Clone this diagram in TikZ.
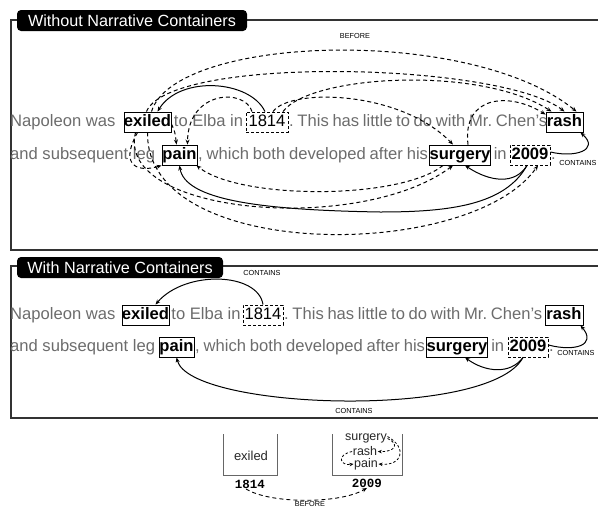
\documentclass[tikz,border=0pt]{standalone}
\usepackage{fontspec}
\setmainfont{Liberation Sans}
\newfontfamily\monofont{Liberation Mono}
\usetikzlibrary{arrows.meta,calc}
\definecolor{txtgray}{HTML}{6C6C6C}
\definecolor{framegray}{HTML}{333333}
\definecolor{boxgray}{HTML}{666666}
\newcommand{\bodyfont}{\fontsize{16.6}{19}\selectfont\frenchspacing}
\newcommand{\tabfont}{\fontsize{16.2}{19}\selectfont}
\newcommand{\smallcaps}{\fontsize{7.3}{8}\selectfont}
\newcommand{\tightsp}[1]{\spaceskip=#1\relax\xspaceskip=#1\relax}
\begin{document}
\begin{tikzpicture}[x=1pt,y=-1pt,
  ev/.style={draw=black, line width=0.9pt, inner xsep=0pt, inner ysep=2pt,
    text height=12.5pt, text depth=3.5pt, font=\bodyfont\bfseries, text=black, anchor=base},
  tm/.style={ev, dash pattern=on 3pt off 2pt},
  txt/.style={inner sep=0pt, font=\bodyfont, text=txtgray, anchor=base},
  con/.style={line width=1pt, -{Stealth[length=5pt,width=4pt]}},
  bef/.style={con, dash pattern=on 4pt off 3pt},
  lbl/.style={inner sep=0pt, font=\smallcaps, text=black},
  tab/.style={fill=black, rounded corners=4pt, text=white, font=\tabfont, inner sep=0pt},
  frm/.style={draw=framegray, line width=1.2pt},
  cword/.style={inner sep=0.5pt, font=\fontsize{12.5}{13}\selectfont, text=black!85},
  cyear/.style={inner sep=0.5pt, font=\monofont\bfseries\fontsize{12.5}{14}\selectfont, text=black},
  cbef/.style={line width=0.8pt, -{Stealth[length=4pt,width=3.5pt]}, dash pattern=on 2.5pt off 2pt}
]
\useasboundingbox (0,0) rectangle (598,509);

% ---------- Panel 1 frame ----------
\draw[frm] (11,20) rectangle (610,250);
\node[tab, minimum width=230pt, minimum height=21pt] (tab1) at (132,20.5) {Without Narrative Containers};

% line 1
\node[ev, minimum width=47pt] (ex1) at (147.5,126.5) {exiled};
\node[tm, minimum width=42pt, font=\bodyfont] (yA1) at (267,126.5) {1814};
\node[ev, minimum width=37pt] (ra1) at (564.5,126.5) {rash};
\node[txt, anchor=base west] (t11) at (10,126.5) {Napoleon was};
\node[txt] (t12) at ($(ex1.base east)!0.5!(yA1.base west)$) {to Elba in};
\node[txt, anchor=base west] (t13) at ($(yA1.base east)+(0.5,0)$) {\tightsp{3.7pt}. This has little to do with Mr. Chen's};
% line 2
\node[ev, minimum width=35pt] (pa1) at (179.5,159.5) {pain};
\node[ev, minimum width=60pt] (su1) at (460,159.5) {surgery};
\node[tm, minimum width=40pt] (yB1) at (530,159.5) {2009};
\node[txt, anchor=base west] (t21) at (10,159.5) {and subsequent leg};
\node[txt, anchor=base west] (t22) at ($(pa1.base east)+(0.5,0)$) {\tightsp{3.9pt}, which both developed after his};
\node[txt] (t23) at ($(su1.base east)!0.5!(yB1.base west)$) {in};
\node[txt, anchor=base west] (t24) at ($(yB1.base east)+(0.5,0)$) {.};

% solid CONTAINS arcs
\draw[con] ([xshift=-2pt]yA1.north) .. controls (250,80) and (180,75) .. ([xshift=10pt]ex1.north);
\draw[con] ([yshift=3pt]yB1.east) .. controls (575,158) and (600,150) .. ([xshift=-3pt]ra1.south east);
\draw[con] ([xshift=-3pt]yB1.south) .. controls (515,185) and (490,182) .. ([xshift=5pt]su1.south);
\draw[con] ([xshift=-3pt]yB1.south) .. controls (505,205) and (450,212) .. (380,212)
   .. controls (260,210) and (185,200) .. (pa1.south);
\node[lbl] (lc1) at (578,163) {CONTAINS};

% dashed BEFORE arcs
\draw[bef] ([xshift=4pt]ex1.north) .. controls (175,35) and (470,25) .. ([xshift=12pt]ra1.north);
\node[lbl] (lb1) at (355,36) {BEFORE};
\draw[bef] ([xshift=-1pt]ex1.north) .. controls (170,55) and (500,62) .. (ra1.north);
\draw[bef] ([xshift=16pt]yA1.north) .. controls (310,75) and (480,65) .. ([xshift=-13pt]ra1.north);
\draw[bef] ([xshift=6pt]yA1.north) .. controls (290,88) and (400,90) .. ([xshift=-7pt]su1.north);
\draw[bef] ([xshift=8pt]su1.north) .. controls (462,95) and (510,92) .. ([yshift=-3pt]ra1.north west);
\draw[bef] ([xshift=-15pt]yA1.north) .. controls (245,88) and (188,90) .. ([xshift=8pt]pa1.north);
\draw[bef] ([yshift=-2pt]ex1.east) .. controls (175,132) .. ([xshift=-3pt]pa1.north);
\draw[bef] ([xshift=-17pt]su1.south) .. controls (400,200) and (240,200) .. ([xshift=-1pt]pa1.south east);
\draw[bef] ([xshift=-12pt]ex1.south) .. controls (115,215) and (360,235) .. ([xshift=-7pt]su1.south);
\draw[bef] (ex1.south) .. controls (145,262) and (470,262) .. ([xshift=8pt]yB1.south);
\draw[bef] ([xshift=-10pt]ex1.south) .. controls (118,168) and (140,172) .. (pa1.south west);

% ---------- Panel 2 frame ----------
\draw[frm] (11,266) rectangle (610,418);
\node[tab, minimum width=206pt, minimum height=21pt] (tab2) at (120,267.5) {With Narrative Containers};

\node[ev, minimum width=46pt] (ex2) at (145.5,319.5) {exiled};
\node[tm, minimum width=40pt, font=\bodyfont] (yA2) at (263,319.5) {1814};
\node[ev, minimum width=38pt] (ra2) at (564,319.5) {rash};
\node[txt, anchor=base west] (s11) at (10,319.5) {Napoleon was};
\node[txt] (s12) at ($(ex2.base east)!0.5!(yA2.base west)$) {to Elba in};
\node[txt, anchor=base west] (s13) at ($(yA2.base east)+(0.5,0)$) {\tightsp{3.7pt}. This has little to do with Mr. Chen's};
\node[ev, minimum width=35pt] (pa2) at (176.5,351.5) {pain};
\node[ev, minimum width=60pt] (su2) at (457,351.5) {surgery};
\node[tm, minimum width=40pt] (yB2) at (528,351.5) {2009};
\node[txt, anchor=base west] (s21) at (10,351.5) {and subsequent leg};
\node[txt, anchor=base west] (s22) at ($(pa2.base east)+(0.5,0)$) {\tightsp{3.9pt}, which both developed after his};
\node[txt] (s23) at ($(su2.base east)!0.5!(yB2.base west)$) {in};
\node[txt, anchor=base west] (s24) at ($(yB2.base east)+(0.5,0)$) {.};

\draw[con] (yA2.north) .. controls (258,272) and (185,270) .. ([xshift=10pt]ex2.north);
\node[lbl] (lc2) at (262,273) {CONTAINS};
\draw[con] ([yshift=2pt]yB2.east) .. controls (575,352) and (597,345) .. ([xshift=-3pt]ra2.south east);
\node[lbl] (lc3) at (576,353) {CONTAINS};
\draw[con] ([xshift=-5pt]yB2.south) .. controls (510,375) and (485,372) .. ([xshift=8pt]su2.south);
\draw[con] ([xshift=-5pt]yB2.south) .. controls (490,420) and (190,410) .. (pa2.south);
\node[lbl] (lc4) at (354,411) {CONTAINS};

% ---------- Containers ----------
\draw[boxgray, line width=1pt] (223,434) -- (223,475) -- (277,475) -- (277,434);
\draw[boxgray, line width=1pt] (332,434) -- (332,475) -- (402,475) -- (402,434);
\node[cword, font=\fontsize{13}{14}\selectfont] (cex) at (251,456) {exiled};
\node[cyear] (c1814) at (250,484) {1814};
\node[cword] (csu) at (366,438.5) {surgery};
\node[cword] (cra) at (365,451.5) {rash};
\node[cword] (cpa) at (366,464) {pain};
\node[cyear] (c2009) at (367,483) {2009};
\draw[cbef] (csu.east) .. controls (400,444) and (395,452) .. (cra.east);
\draw[cbef] ([yshift=2pt]csu.east) .. controls (408,448) and (402,466) .. (cpa.east);
\draw[cbef] (cra.west) .. controls (336,455) and (340,466) .. (cpa.west);
\draw[bef, line width=0.9pt] ([xshift=-4pt]c1814.south) .. controls (270,504) and (340,504) .. (c2009.south);
\node[lbl] (lb2) at (310,504) {BEFORE};
\end{tikzpicture}
\end{document}
